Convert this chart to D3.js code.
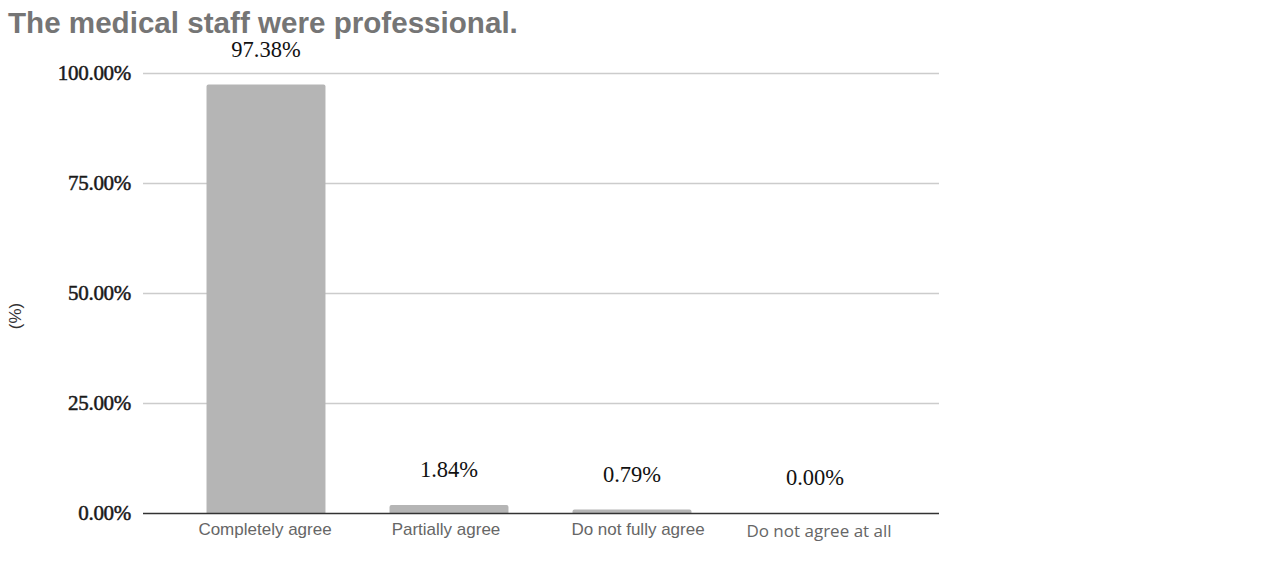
<!DOCTYPE html>
<html><head><meta charset="utf-8">
<script src="https://cdn.jsdelivr.net/npm/d3@7/dist/d3.min.js"></script>
<style>body{margin:0;background:#fff;}svg{display:block;}</style>
</head><body>
<script>
const categories = ["Completely agree", "Partially agree", "Do not fully agree", "Do not agree at all"];
const values = [97.38, 1.84, 0.79, 0.00];
const valueLabels = ["97.38%", "1.84%", "0.79%", "0.00%"];
const tickValues = [0, 25, 50, 75, 100];
const tickLabels = ["0.00%", "25.00%", "50.00%", "75.00%", "100.00%"];

const W = 1280, H = 566;
const svg = d3.select("body").append("svg").attr("width", W).attr("height", H);

const gridX0 = 143, gridX1 = 939;
const y = d3.scaleLinear().domain([0, 100]).range([513, 73]);
const x = d3.scaleBand().domain(categories).range([174.5, 906.5]).paddingInner(0.35).paddingOuter(0.175);

svg.append("text").attr("x", 8).attr("y", 33)
  .attr("font-family", "Liberation Sans, Arial, sans-serif").attr("font-weight", "bold")
  .attr("font-size", 29.6).attr("fill", "#757575").text("The medical staff were professional.");

// gridlines
svg.append("g").selectAll("line").data(tickValues.filter(d => d > 0)).join("line")
  .attr("x1", gridX0).attr("x2", gridX1)
  .attr("y1", d => y(d) + 0.5).attr("y2", d => y(d) + 0.5)
  .attr("stroke", "#cccccc").attr("stroke-width", 1.5);

// tick labels
svg.append("g").selectAll("text").data(tickValues).join("text")
  .attr("x", 131).attr("y", d => y(d)).attr("dy", "0.35em")
  .attr("text-anchor", "end")
  .attr("font-family", "Liberation Serif, Times New Roman, serif")
  .attr("font-size", 21).attr("fill", "#1a1a1a").attr("stroke", "#1a1a1a").attr("stroke-width", 0.5)
  .attr("letter-spacing", -0.3)
  .text((d, i) => tickLabels[i]);

// bars
svg.append("g").selectAll("path").data(values).join("path")
  .attr("d", (d, i) => {
    const x0 = x(categories[i]), w = x.bandwidth(), yt = y(d), yb = y(0);
    const r = Math.min(2, yb - yt);
    if (yb - yt <= 0) return "";
    return `M${x0},${yb}V${yt + r}Q${x0},${yt} ${x0 + r},${yt}H${x0 + w - r}Q${x0 + w},${yt} ${x0 + w},${yt + r}V${yb}Z`;
  })
  .attr("fill", "#b5b5b5");

// axis line
svg.append("line").attr("x1", gridX0).attr("x2", gridX1)
  .attr("y1", y(0) + 0.5).attr("y2", y(0) + 0.5).attr("stroke", "#333").attr("stroke-width", 1.5);

// value labels
svg.append("g").selectAll("text").data(values).join("text")
  .attr("x", (d, i) => x(categories[i]) + x.bandwidth() / 2)
  .attr("y", d => y(d) - 28)
  .attr("text-anchor", "middle")
  .attr("font-family", "Liberation Serif, Times New Roman, serif")
  .attr("font-size", 22.5).attr("fill", "#111")
  .text((d, i) => valueLabels[i]);

// category labels
svg.append("g").selectAll("text").data(categories).join("text")
  .attr("x", (d, i) => x(d) + x.bandwidth() / 2 + [-1, -3, 6, 4][i])
  .attr("y", (d, i) => i === 3 ? 537 : 535)
  .attr("text-anchor", "middle")
  .attr("font-family", (d, i) => i === 3 ? "Open Sans, sans-serif" : "Liberation Sans, Arial, sans-serif")
  .attr("font-size", 17).attr("fill", "#666")
  .text(d => d);

// y axis title
svg.append("text").attr("transform", "translate(21,316) rotate(-90)")
  .attr("text-anchor", "middle")
  .attr("font-family", "Liberation Sans, Arial, sans-serif")
  .attr("font-size", 17).attr("fill", "#333").text("(%)");
</script>
</body></html>
